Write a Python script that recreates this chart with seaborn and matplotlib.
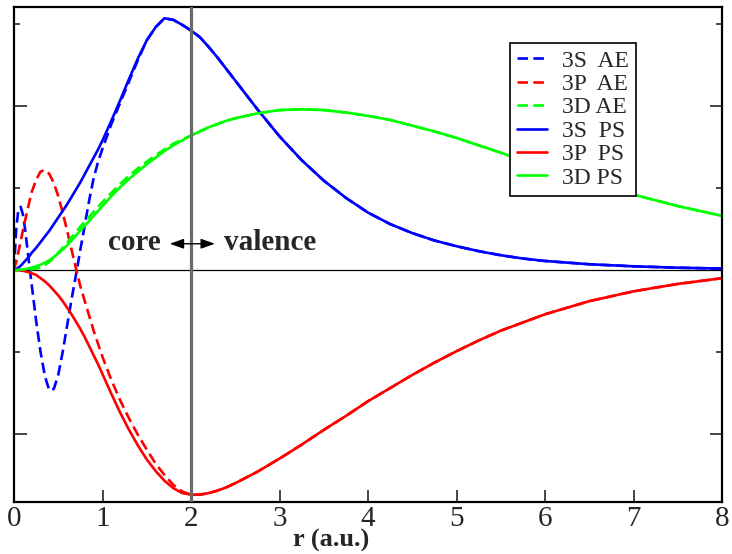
import numpy as np
import pandas as pd
import matplotlib
matplotlib.use("Agg")
import matplotlib.pyplot as plt
from matplotlib.ticker import MultipleLocator
import seaborn as sns

# radial grid (a.u.)
r = [0.0, 0.025, 0.05, 0.075, 0.1, 0.125, 0.15, 0.175, 0.2, 0.25, 0.3, 0.35,
     0.4, 0.45, 0.5, 0.55, 0.6, 0.65, 0.7, 0.75, 0.8, 0.85, 0.9, 0.95, 1.0,
     1.1, 1.2, 1.3, 1.4, 1.5, 1.6, 1.7, 1.8, 1.9, 2.0, 2.1, 2.2, 2.3, 2.4,
     2.5, 2.75, 3.0, 3.25, 3.5, 3.75, 4.0, 4.25, 4.5, 4.75, 5.0, 5.25, 5.5,
     5.75, 6.0, 6.5, 7.0, 7.5, 8.0]

# all-electron partial waves
s_ae = [0.0, 0.5, 0.74, 0.77, 0.68, 0.5, 0.27, 0.04, -0.18, -0.62, -1.0, -1.3,
        -1.47, -1.45, -1.28, -1.0, -0.68, -0.36, -0.06, 0.25, 0.55, 0.85, 1.12,
        1.32, 1.48, 1.78, 2.04, 2.3, 2.56, 2.8, 2.96, 3.07, 3.05, 2.99, 2.92,
        2.84, 2.72, 2.59, 2.45, 2.31, 1.96, 1.63, 1.34, 1.09, 0.88, 0.7, 0.56,
        0.45, 0.36, 0.29, 0.23, 0.18, 0.14, 0.11, 0.07, 0.045, 0.028, 0.017]
p_ae = [0.0, 0.1, 0.22, 0.35, 0.48, 0.6, 0.72, 0.84, 0.95, 1.1, 1.2, 1.22,
        1.17, 1.06, 0.9, 0.7, 0.48, 0.25, 0.02, -0.2, -0.38, -0.56, -0.74,
        -0.9, -1.06, -1.34, -1.59, -1.81, -2.01, -2.19, -2.36, -2.5, -2.62,
        -2.7, -2.74, -2.74, -2.72, -2.69, -2.65, -2.6, -2.46, -2.3, -2.13,
        -1.95, -1.78, -1.6, -1.44, -1.28, -1.13, -0.99, -0.86, -0.74, -0.64,
        -0.54, -0.38, -0.26, -0.17, -0.1]
d_ae = [0.0, 0.0, 0.0, 0.001, 0.002, 0.003, 0.005, 0.007, 0.01, 0.018, 0.03,
        0.06, 0.1, 0.15, 0.21, 0.27, 0.33, 0.4, 0.46, 0.53, 0.59, 0.65, 0.71,
        0.77, 0.83, 0.94, 1.05, 1.15, 1.24, 1.32, 1.4, 1.47, 1.54, 1.59, 1.64,
        1.69, 1.74, 1.78, 1.82, 1.85, 1.91, 1.95, 1.96, 1.95, 1.92, 1.88, 1.83,
        1.76, 1.69, 1.61, 1.52, 1.43, 1.34, 1.25, 1.08, 0.92, 0.78, 0.66]

# pseudo partial waves
s_ps = [0.0, 0.01, 0.03, 0.05, 0.08, 0.11, 0.14, 0.17, 0.21, 0.27, 0.34, 0.41,
        0.48, 0.56, 0.64, 0.72, 0.8, 0.89, 0.98, 1.07, 1.17, 1.27, 1.37, 1.47,
        1.58, 1.82, 2.07, 2.33, 2.58, 2.8, 2.96, 3.07, 3.05, 2.99, 2.92, 2.84,
        2.72, 2.59, 2.45, 2.31, 1.96, 1.63, 1.34, 1.09, 0.88, 0.7, 0.56, 0.45,
        0.36, 0.29, 0.23, 0.18, 0.14, 0.11, 0.07, 0.045, 0.028, 0.017]
p_ps = [0.0, -0.001, -0.003, -0.006, -0.01, -0.015, -0.022, -0.03, -0.04,
        -0.06, -0.1, -0.14, -0.19, -0.25, -0.31, -0.38, -0.46, -0.54, -0.63,
        -0.72, -0.82, -0.93, -1.04, -1.15, -1.27, -1.51, -1.74, -1.95, -2.14,
        -2.31, -2.45, -2.57, -2.66, -2.72, -2.74, -2.74, -2.72, -2.69, -2.65,
        -2.6, -2.46, -2.3, -2.13, -1.95, -1.78, -1.6, -1.44, -1.28, -1.13,
        -0.99, -0.86, -0.74, -0.64, -0.54, -0.38, -0.26, -0.17, -0.1]
d_ps = [0.0, 0.0, 0.002, 0.004, 0.007, 0.011, 0.016, 0.022, 0.03, 0.045,
        0.065, 0.09, 0.12, 0.16, 0.2, 0.25, 0.3, 0.36, 0.42, 0.48, 0.54, 0.6,
        0.66, 0.72, 0.78, 0.9, 1.01, 1.11, 1.2, 1.29, 1.37, 1.45, 1.52, 1.58,
        1.64, 1.69, 1.74, 1.78, 1.82, 1.85, 1.91, 1.95, 1.96, 1.95, 1.92, 1.88,
        1.83, 1.76, 1.69, 1.61, 1.52, 1.43, 1.34, 1.25, 1.08, 0.92, 0.78, 0.66]

labels = ["3S  AE", "3P  AE", "3D AE", "3S  PS", "3P  PS", "3D PS"]
series = [s_ae, p_ae, d_ae, s_ps, p_ps, d_ps]
colors = ["#0000ff", "#ff0000", "#00ff00", "#0000ff", "#ff0000", "#00ff00"]
r_cut = 2.0

sns.set_theme(style="white")
plt.rcParams["font.family"] = ["Liberation Serif", "DejaVu Serif"]

fig = plt.figure(figsize=(7.32, 5.54), dpi=100)
ax = fig.add_axes([14 / 732, 1 - 502 / 554, 708 / 732, 495 / 554])

df = pd.DataFrame({"r": r})
for lab, vals, col in zip(labels, series, colors):
    df[lab] = vals
    ls = (0, (4, 2)) if lab.endswith("AE") else "-"
    sns.lineplot(data=df, x="r", y=lab, ax=ax, color=col, linestyle=ls,
                 linewidth=1.9, label=lab, estimator=None, sort=False)

ax.axhline(0, color="black", linewidth=0.9, zorder=1)
ax.axvline(r_cut, color="#6a6a6a", linewidth=2.3, zorder=3)

ax.set_xlim(0, 8)
ax.set_ylim(-2.829, 3.207)
ax.xaxis.set_major_locator(MultipleLocator(1))
ax.yaxis.set_major_locator(MultipleLocator(2))
ax.yaxis.set_minor_locator(MultipleLocator(1))
ax.tick_params(axis="x", which="major", direction="in", length=9, width=1.2,
               labelsize=21, pad=3, top=False, bottom=True)
ax.tick_params(axis="y", which="major", direction="in", length=9, width=1.2,
               left=True, right=True, labelleft=False)
ax.tick_params(axis="y", which="minor", direction="in", length=4.5, width=1.2,
               left=True, right=True)
for sp in ax.spines.values():
    sp.set_color("black")
    sp.set_linewidth(1.6)

ax.set_ylabel("")
ax.set_xlabel("r (a.u.)", fontsize=19, fontweight="bold")
ax.xaxis.set_label_coords(0.448, -0.102)
ax.xaxis.label.set_va("bottom")

# core / valence marker around the cutoff radius
ax.text(1.36, 0.24, "core", fontsize=21, fontweight="bold",
        ha="center", va="baseline")
ax.text(2.89, 0.24, "valence", fontsize=21, fontweight="bold",
        ha="center", va="baseline")
ax.annotate("", xy=(1.76, 0.32), xytext=(2.27, 0.32),
            arrowprops=dict(arrowstyle="<|-|>,head_length=0.7,head_width=0.25",
                            color="black", lw=1.0, shrinkA=0, shrinkB=0),
            zorder=4)

leg = ax.legend(loc="upper left", bbox_to_anchor=(496 / 708, 1 - 36 / 495),
                fontsize=17, frameon=True, fancybox=False, framealpha=1,
                edgecolor="black", handlelength=1.25, handletextpad=0.65,
                labelspacing=0.08, borderpad=0.3, borderaxespad=0)
leg.get_frame().set_linewidth(1.2)

fig.savefig("out.png", dpi=100, facecolor="white")
